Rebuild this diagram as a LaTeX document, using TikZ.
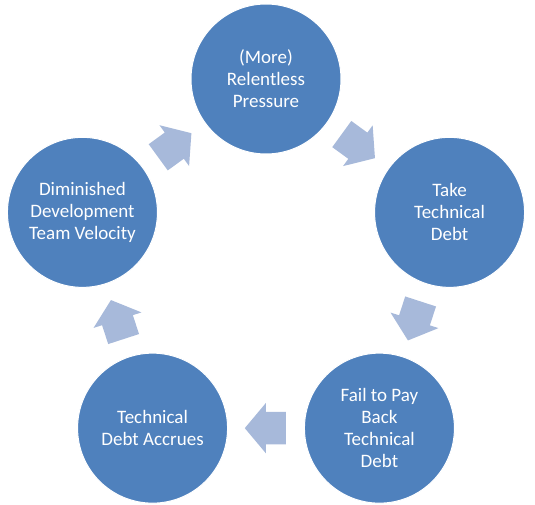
\documentclass[tikz,border=0pt]{standalone}
\usepackage{fontspec}
\setmainfont{Carlito}
\usepackage{xcolor}
\usetikzlibrary{positioning,calc,shapes.arrows}
\definecolor{discblue}{HTML}{4F81BD}
\definecolor{flowblue}{HTML}{A7B9DA}

\begin{document}
\begin{tikzpicture}[x=1pt, y=1pt,
  disc/.style={circle, fill=discblue, draw=white, line width=1pt,
               minimum size=150pt, inner sep=0pt, text=white, align=center,
               font=\fontsize{19}{22}\selectfont},
  flow/.style={single arrow, fill=flowblue, minimum height=41pt,
               inner xsep=0pt, inner ysep=16pt, single arrow head extend=9pt,
               single arrow tip angle=100, sloped, allow upside down}]
  \useasboundingbox (0,0) rectangle (535,-505);
  \coordinate (O) at (266,-272);

  % Steps of the cycle
  \node[disc] (press) at ($(O)+(90:193)$) {(More)\\Relentless\\Pressure};
  \node[disc] (take) at ($(O)+(18:193)$) {Take\\Technical\\Debt};
  \node[disc] (fail) at ($(O)+(-54:193)$) {Fail to Pay\\Back\\Technical\\Debt};
  \node[disc] (accr) at ($(O)+(-126:193)$) {Technical\\Debt Accrues};
  \node[disc] (velo) at ($(O)+(162:193)$) {Diminished\\Development\\Team Velocity};

  % Block arrows between the steps
  \path (press) -- (take) node[pos=0.42, flow] (f1) {};
  \path (take) -- (fail) node[pos=0.42, flow] (f2) {};
  \path (fail) -- (accr) node[pos=0.42, flow] (f3) {};
  \path (accr) -- (velo) node[pos=0.42, flow] (f4) {};
  \path (velo) -- (press) node[pos=0.42, flow] (f5) {};
\end{tikzpicture}
\end{document}
